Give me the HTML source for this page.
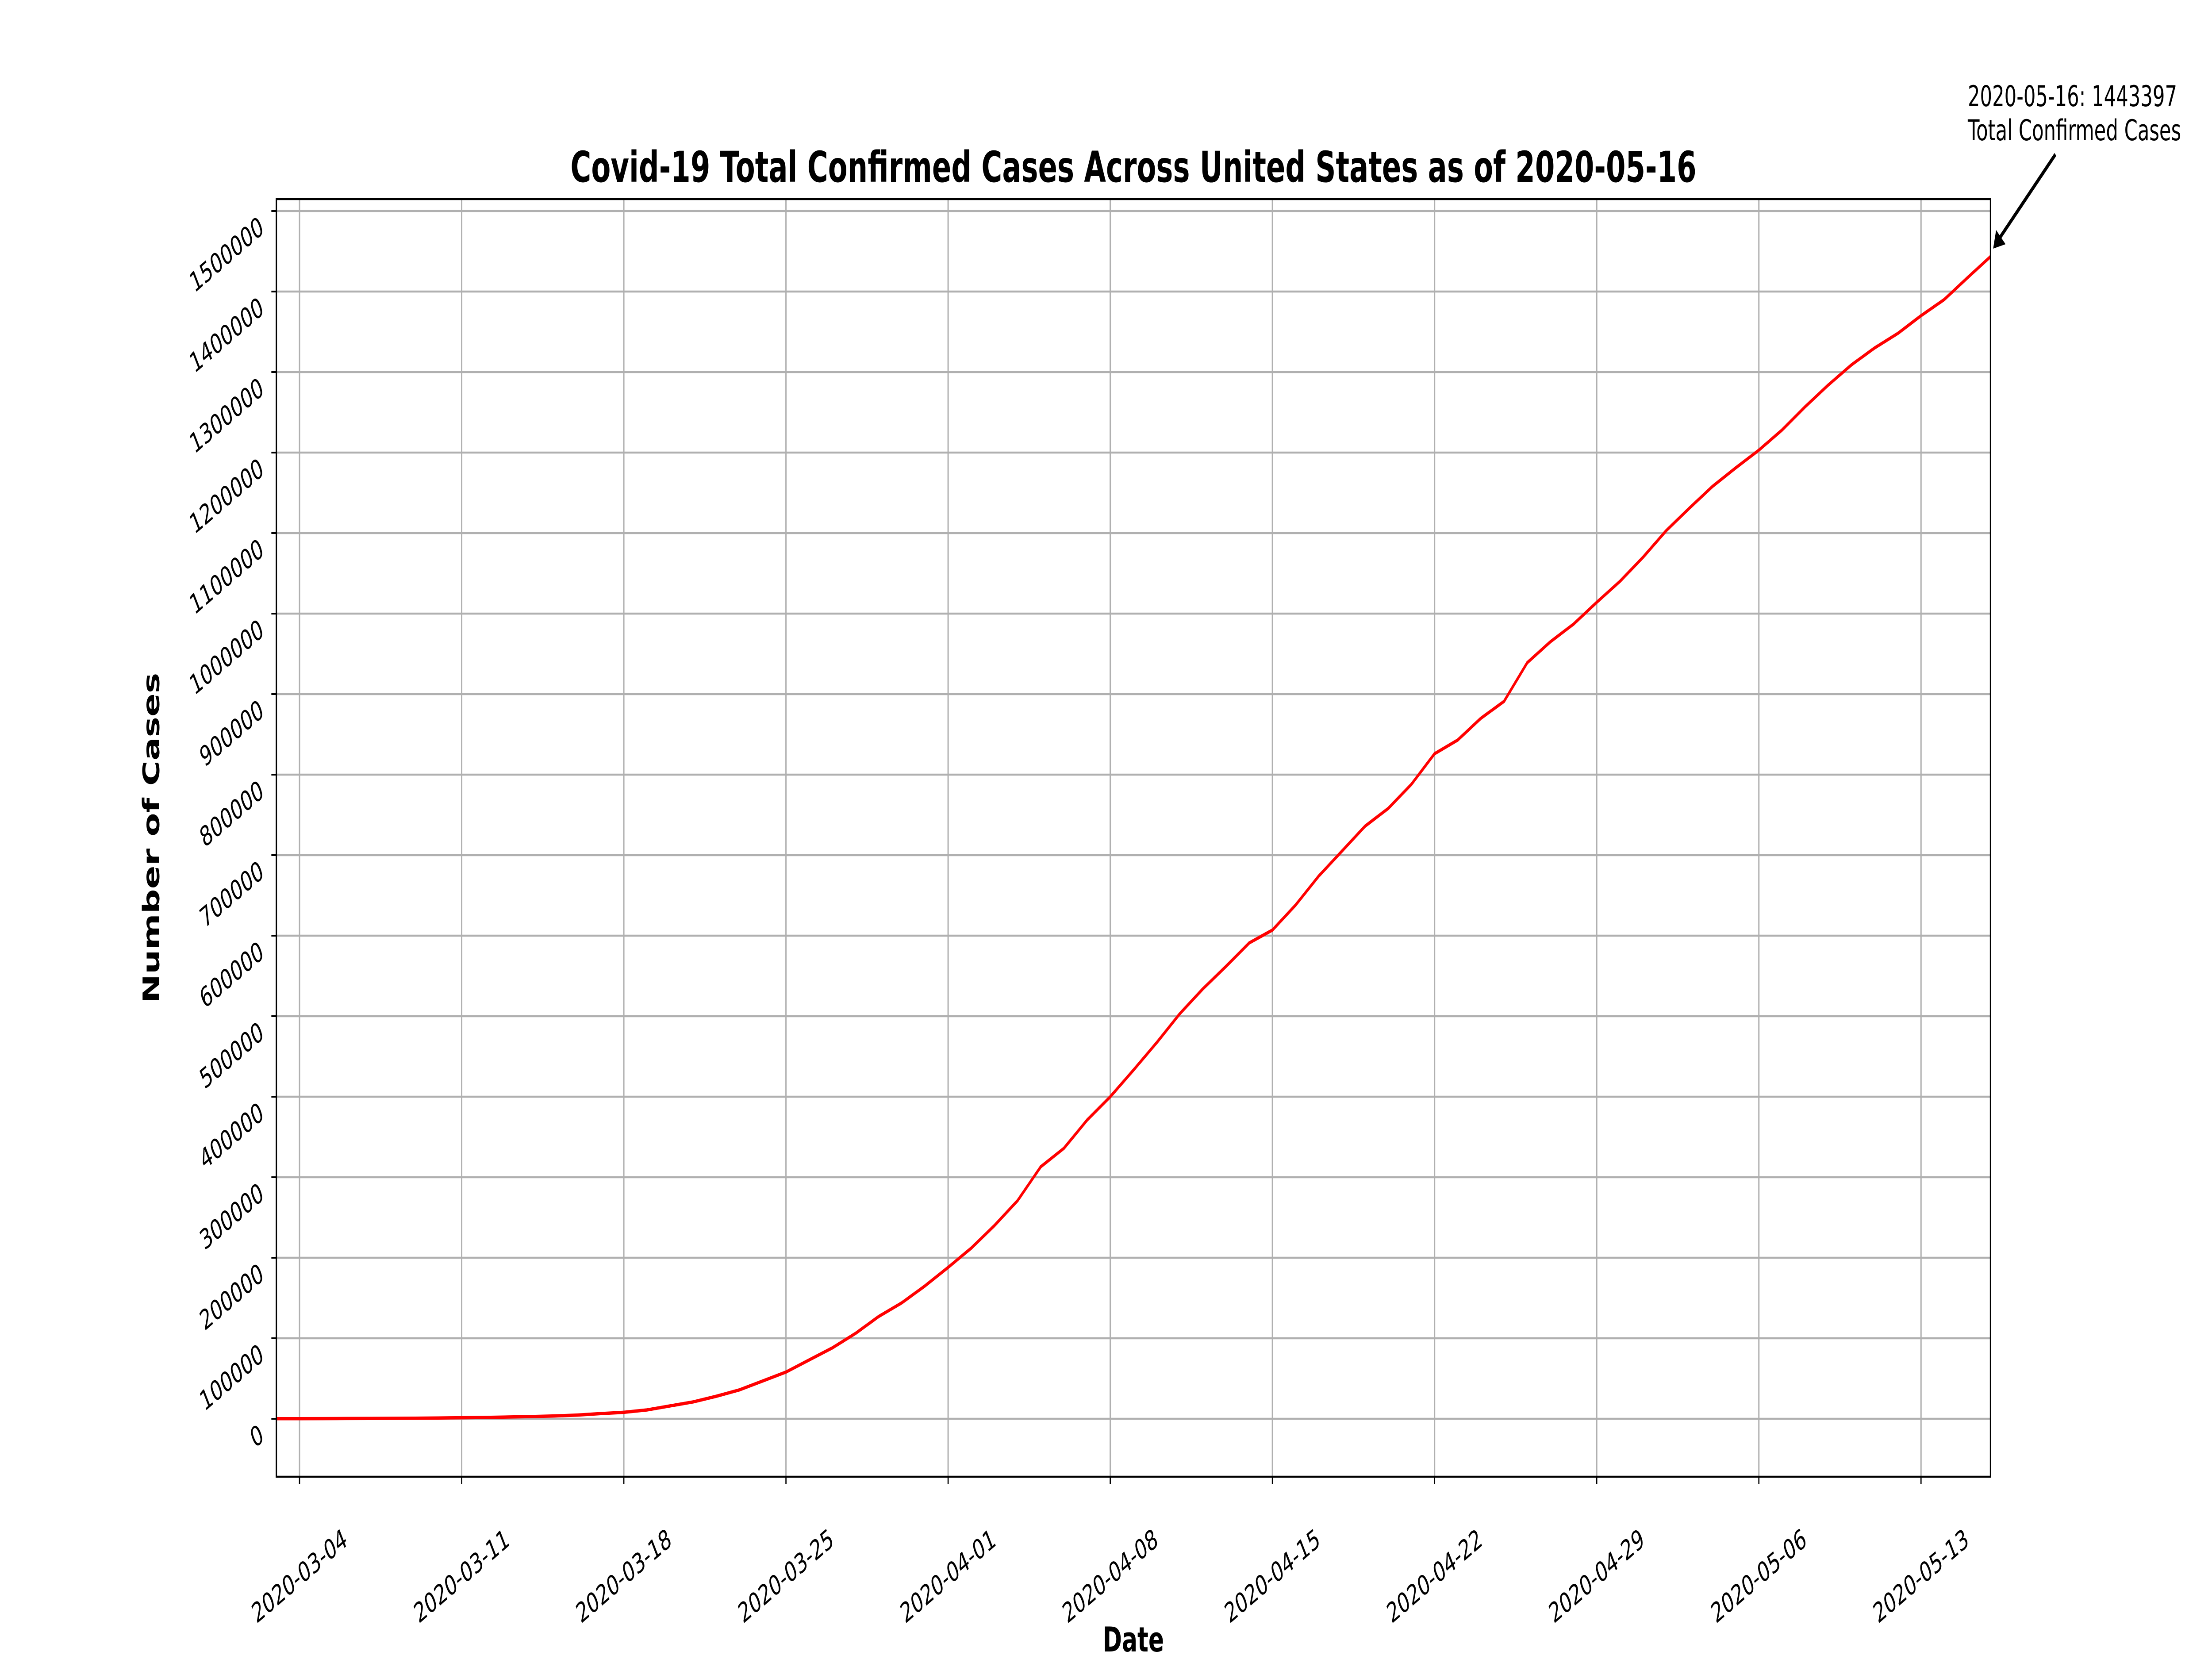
<!DOCTYPE html>
<html><head><meta charset="utf-8"><style>
html,body{margin:0;padding:0;background:#fff;width:100%;height:100%;overflow:hidden;}
svg{display:block;width:100vw;height:100vh;font-family:"DejaVu Sans","Liberation Sans",sans-serif;}
</style></head><body>
<svg id="chart" viewBox="0 0 7500 3750" preserveAspectRatio="none" xmlns="http://www.w3.org/2000/svg">
<rect x="0" y="0" width="7500" height="3750" fill="#fff"/>
<text x="3843" y="411" text-anchor="middle" font-size="96" font-weight="bold">Covid-19 Total Confirmed Cases Across United States as of 2020-05-16</text>
<g id="grid"></g>
<g id="ticks"></g>
<path id="line" fill="none" stroke="#ff0000" stroke-width="7.5" stroke-linejoin="round"/>
<rect x="937" y="450" width="5812" height="2888" fill="none" stroke="#000" stroke-width="4.5"/>
<text transform="translate(540,1894) rotate(-90)" text-anchor="middle" font-size="78" font-weight="bold">Number of Cases</text>
<text x="3843" y="3733" text-anchor="middle" font-size="78" font-weight="bold">Date</text>
<text x="6672" y="240" font-size="65">2020-05-16: 1443397</text>
<text x="6672" y="317" font-size="65">Total Confirmed Cases</text>
<g>
<line x1="6969" y1="349" x2="6775" y2="543" stroke="#000" stroke-width="9"/>
<polygon points="6758,562 6768,520 6800,552" fill="#000"/>
</g>
</svg>
<script>
const dates = ["03-03","03-04","03-05","03-06","03-07","03-08","03-09","03-10","03-11","03-12","03-13","03-14","03-15","03-16","03-17","03-18","03-19","03-20","03-21","03-22","03-23","03-24","03-25","03-26","03-27","03-28","03-29","03-30","03-31","04-01","04-02","04-03","04-04","04-05","04-06","04-07","04-08","04-09","04-10","04-11","04-12","04-13","04-14","04-15","04-16","04-17","04-18","04-19","04-20","04-21","04-22","04-23","04-24","04-25","04-26","04-27","04-28","04-29","04-30","05-01","05-02","05-03","05-04","05-05","05-06","05-07","05-08","05-09","05-10","05-11","05-12","05-13","05-14","05-15","05-16"];
const cases = [120,160,220,320,430,540,700,1000,1300,1660,2180,2730,3500,4630,6420,8000,11000,16000,21000,28000,36000,47000,58000,73000,88000,106000,127000,144000,165000,188000,212000,240000,271000,313000,336000,371000,400000,433000,467000,503000,534000,562000,591000,607000,638000,674000,705000,736000,758000,788000,826000,843000,870000,891000,939000,965000,987000,1014000,1040000,1070000,1103000,1131000,1158000,1181000,1203000,1228000,1257000,1284000,1309000,1330000,1348000,1370000,1390000,1417000,1443397];
const xTickLabels = ["2020-03-04","2020-03-11","2020-03-18","2020-03-25","2020-04-01","2020-04-08","2020-04-15","2020-04-22","2020-04-29","2020-05-06","2020-05-13"];
const xTickIndex = [1,8,15,22,29,36,43,50,57,64,71];
const yTicks = [0,100000,200000,300000,400000,500000,600000,700000,800000,900000,1000000,1100000,1200000,1300000,1400000,1500000];

const L=937,R=6749,T=450,B=3338;
const xs = i => L + i*(R-L)/(dates.length-1);
const ys = v => 3207 - v*(3207-477)/1500000;
const NS="http://www.w3.org/2000/svg";
const grid=document.getElementById('grid'), ticks=document.getElementById('ticks');
function mk(tag,attrs,parent){const e=document.createElementNS(NS,tag);for(const k in attrs)e.setAttribute(k,attrs[k]);parent.appendChild(e);return e;}
xTickIndex.forEach((idx,k)=>{
  const x=xs(idx);
  const g=mk('line',{x1:x,y1:T,x2:x,y2:B,stroke:'#b0b0b0','stroke-width':4.5},grid);
  
  
  const t=mk('line',{x1:x,y1:B,x2:x,y2:B+17,stroke:'#000','stroke-width':4},ticks);
  
  
  const lb=mk('text',{x:0,y:0,'text-anchor':'middle','dominant-baseline':'central','font-size':62,transform:`translate(${x},3563) rotate(-30)`},ticks);
  lb.textContent=xTickLabels[k];
  
  
});
yTicks.forEach(v=>{
  const y=ys(v);
  const g=mk('line',{x1:L,y1:y,x2:R,y2:y,stroke:'#b0b0b0','stroke-width':4.5},grid);
  
  
  const t=mk('line',{x1:L-17,y1:y,x2:L,y2:y,stroke:'#000','stroke-width':4},ticks);
  
  
  const lb=mk('text',{x:0,y:0,'text-anchor':'end','dominant-baseline':'central','font-size':62,transform:`translate(888,${y+30}) rotate(-30)`},ticks);
  lb.textContent=String(v);
  
  
});
document.getElementById('line').setAttribute('d',cases.map((v,i)=>(i?'L':'M')+xs(i).toFixed(1)+','+ys(v).toFixed(1)).join(' '));
</script>
</body></html>
